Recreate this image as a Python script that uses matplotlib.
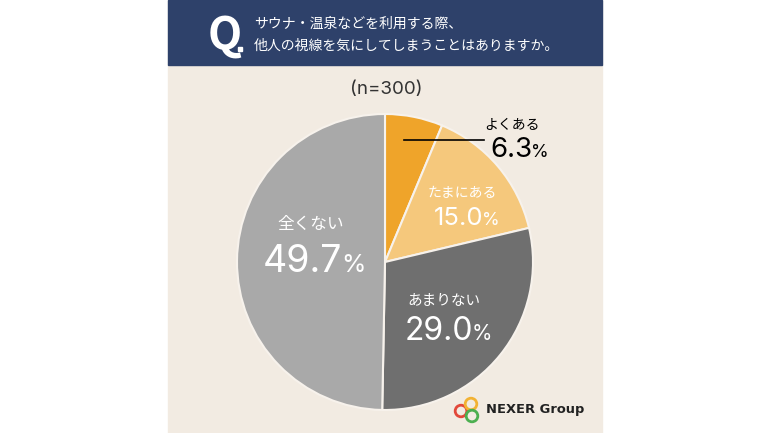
import matplotlib.pyplot as plt
from matplotlib.patches import Rectangle, Circle

plt.rcParams['font.family'] = ['Noto Sans CJK JP', 'DejaVu Sans']

# data
labels = ['よくある', 'たまにある', 'あまりない', '全くない']
values = [6.3, 15.0, 29.0, 49.7]
colors = ['#EFA42A', '#F5C87C', '#6F6F6F', '#A9A9A9']
title_lines = ['サウナ・温泉などを利用する際、', '他人の視線を気にしてしまうことはありますか。']
n_label = '(n=300)'

W, H = 770, 433
fig = plt.figure(figsize=(W / 100, H / 100), dpi=100)
ax = fig.add_axes([0, 0, 1, 1])
fig.patch.set_facecolor('white')


def Y(y):
    return H - y


# pie
ax.pie(values, colors=colors, startangle=90, counterclock=False,
       center=(385, Y(262)), radius=148, frame=True,
       wedgeprops=dict(edgecolor='#F7F2EC', linewidth=1.5, zorder=2))
ax.set_xlim(0, W)
ax.set_ylim(0, H)
ax.set_aspect('equal')
ax.axis('off')

# panel + header
ax.add_patch(Rectangle((168, 0), 434, H, color='#F2EBE2', zorder=0))
ax.add_patch(Rectangle((168, Y(65)), 434, 65, color='#2E416A', zorder=1))
ax.text(208, Y(50), 'Q', color='white', fontsize=32, fontweight='bold',
        va='baseline', ha='left', zorder=2)
ax.add_patch(Rectangle((238, Y(51)), 4, 4, color='white', zorder=3))
ax.text(254, Y(24), title_lines[0], color='white', fontsize=10, va='center', zorder=2)
ax.text(254, Y(46), title_lines[1], color='white', fontsize=10, va='center', zorder=2)
ax.text(386, Y(90), n_label, color='#333333', fontsize=13.5, family='Inter',
        ha='center', va='center')

# labels: (category x, category y, split x, baseline y, num size, pct size, color)
specs = [
    (512, 125, 532, 157, 20, 13, 'black'),
    (462, 193, 483, 225, 18.5, 13, 'white'),
    (444, 301, 473, 340, 23, 15, 'white'),
    (311, 224, 342, 272, 27, 18, 'white'),
]
cat_sizes = [10, 10, 10.5, 12]
for lab, val, sp, cs in zip(labels, values, specs, cat_sizes):
    cx, cy, sx, by, ns, ps, col = sp
    ax.text(cx, Y(cy), lab, color=col, fontsize=cs, ha='center', va='center', zorder=4)
    ax.text(sx, Y(by), f'{val:.1f}', color=col, fontsize=ns, family='Inter',
            ha='right', va='baseline', zorder=4)
    ax.text(sx - 1, Y(by), '%', color=col, fontsize=ps, family='Inter',
            ha='left', va='baseline', zorder=4)

ax.plot([404, 484], [Y(140), Y(140)], color='black', lw=1.2, zorder=4)

# logo
for (x, y), c in zip([(461, 411), (471, 404), (472, 416)], ['#E2483A', '#F2B233', '#4CAF50']):
    ax.add_patch(Circle((x, Y(y)), 5.8, fill=False, edgecolor=c, lw=2.0, zorder=3))
ax.text(486, Y(410), 'NEXER Group', color='#222222', fontsize=9.4, fontweight='bold',
        family='DejaVu Sans', va='center', ha='left', zorder=4)

fig.savefig('out.png', dpi=100, facecolor='white')
